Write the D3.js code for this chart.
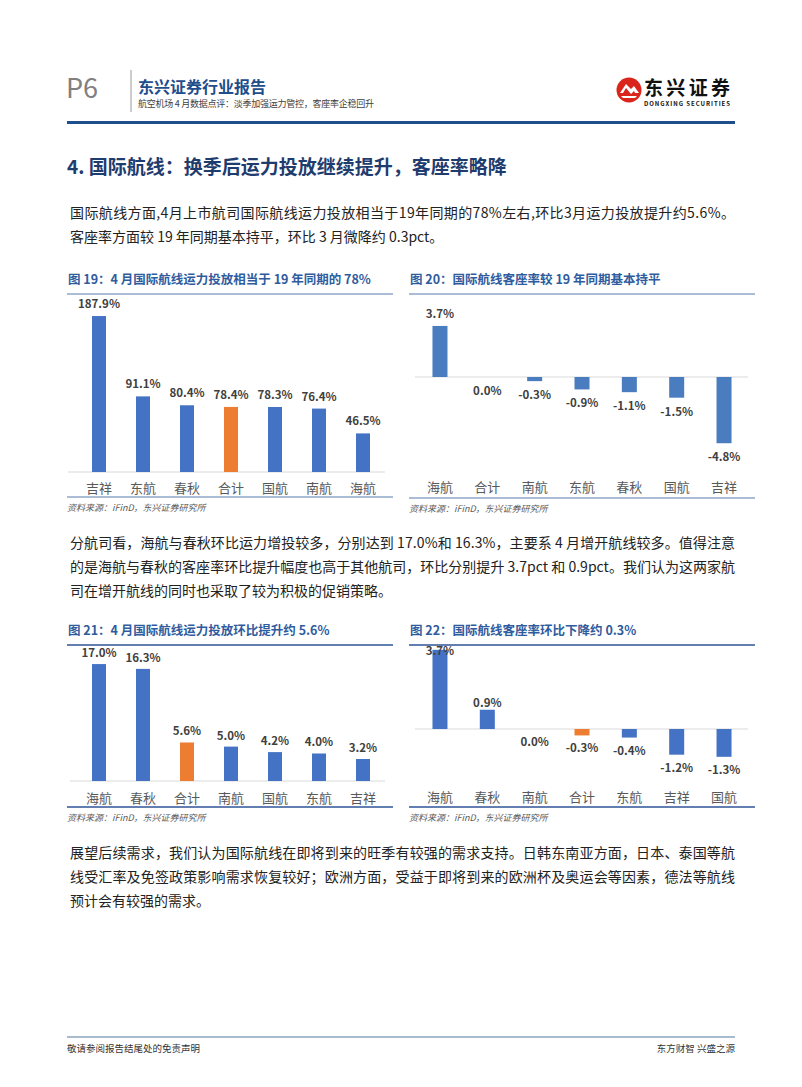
<!DOCTYPE html>
<html lang="zh">
<head>
<meta charset="UTF-8" />
<title>P6</title>
<style>
  body { margin: 0; background: #fff; }
  svg text { font-family: "Noto Sans CJK SC", "Noto Sans", sans-serif; }
</style>
</head>
<body>
<svg id="page" width="802" height="1087"></svg>
<script src="https://d3js.org/d3.v7.min.js"></script>
<script>
// chart data
const cats19 = ["吉祥", "东航", "春秋", "合计", "国航", "南航", "海航"];
const vals19 = [187.9, 91.1, 80.4, 78.4, 78.3, 76.4, 46.5];
const cats20 = ["海航", "合计", "南航", "东航", "春秋", "国航", "吉祥"];
const vals20 = [3.7, 0.0, -0.3, -0.9, -1.1, -1.5, -4.8];
const cats21 = ["海航", "春秋", "合计", "南航", "国航", "东航", "吉祥"];
const vals21 = [17.0, 16.3, 5.6, 5.0, 4.2, 4.0, 3.2];
const cats22 = ["海航", "春秋", "南航", "合计", "东航", "吉祥", "国航"];
const vals22 = [3.7, 0.9, 0.0, -0.3, -0.4, -1.2, -1.3];

const titles = [
  "图 19：4 月国际航线运力投放相当于 19 年同期的 78%",
  "图 20：国际航线客座率较 19 年同期基本持平",
  "图 21：4 月国际航线运力投放环比提升约 5.6%",
  "图 22：国际航线客座率环比下降约 0.3%"
];
const source = "资料来源：iFinD，东兴证券研究所";

const para1 = [
  "国际航线方面,4月上市航司国际航线运力投放相当于19年同期的78%左右,环比3月运力投放提升约5.6%。",
  "客座率方面较 19 年同期基本持平，环比 3 月微降约 0.3pct。"
];
const para2 = [
  "分航司看，海航与春秋环比运力增投较多，分别达到 17.0%和 16.3%，主要系 4 月增开航线较多。值得注意",
  "的是海航与春秋的客座率环比提升幅度也高于其他航司，环比分别提升 3.7pct 和 0.9pct。我们认为这两家航",
  "司在增开航线的同时也采取了较为积极的促销策略。"
];
const para3 = [
  "展望后续需求，我们认为国际航线在即将到来的旺季有较强的需求支持。日韩东南亚方面，日本、泰国等航",
  "线受汇率及免签政策影响需求恢复较好；欧洲方面，受益于即将到来的欧洲杯及奥运会等因素，德法等航线",
  "预计会有较强的需求。"
];

const svg = d3.select("#page");
const BLUE = "#4472c4", ORANGE = "#ed7d31";

// ---- header ----
svg.append("text").attr("x", 66).attr("y", 98).text("P6")
  .style("font-size", "27px").style("fill", "#808080");
svg.append("line").attr("x1", 131).attr("x2", 131).attr("y1", 70).attr("y2", 112)
  .style("stroke", "#999").style("stroke-width", 1);
svg.append("text").attr("x", 138).attr("y", 93).text("东兴证券行业报告")
  .style("font-size", "16px").style("font-weight", "bold").style("fill", "#1f4e8c");
svg.append("text").attr("x", 138).attr("y", 107).text("航空机场 4 月数据点评：淡季加强运力管控，客座率企稳回升")
  .attr("textLength", 236)
  .style("font-size", "9px").style("fill", "#404040");
svg.append("rect").attr("x", 67).attr("y", 121).attr("width", 668).attr("height", 3)
  .style("fill", "#1f4e8c");

// logo
const logo = svg.append("g").attr("transform", "translate(629,90)");
logo.append("circle").attr("r", 12.5).style("fill", "#d9251c");
logo.append("path").attr("d", "M-9,3 L-3,-6 L2,-1 L5,-4 L10,3 L6,3 L5,1 L2,4 L-3,-2 L-6,3 Z")
  .style("fill", "#fff");
logo.append("path").attr("d", "M-8,6 L8,6 L6,8 L-6,8 Z").style("fill", "#fff");
svg.append("text").attr("x", 644).attr("y", 95).text("东兴证券")
  .attr("textLength", 86).style("font-size", "19px").style("font-weight", "bold").style("fill", "#111");
svg.append("text").attr("x", 644).attr("y", 106).text("DONGXING SECURITIES")
  .attr("textLength", 86).style("font-size", "6px").style("font-weight", "bold").style("fill", "#111");

// ---- section heading ----
svg.append("text").attr("x", 67).attr("y", 174)
  .text("4. 国际航线：换季后运力投放继续提升，客座率略降")
  .style("font-size", "19px").style("font-weight", "bold").style("fill", "#1f3c6e");

function paragraph(lines, y0) {
  lines.forEach((t, i) => {
    const tx = svg.append("text").attr("x", 70).attr("y", y0 + i * 24).text(t)
      .style("font-size", "14px").style("fill", "#222");
    if (i < lines.length - 1)
      tx.attr("textLength", 665).attr("lengthAdjust", "spacing");
  });
}
paragraph(para1, 218);
paragraph(para2, 548);
paragraph(para3, 858);

// ---- bar chart helper ----
function barChart(o) {
  const g = svg.append("g");
  g.append("text").attr("x", o.x0 + 1).attr("y", o.titleY).text(o.title)
    .style("font-size", "12.5px").style("font-weight", "bold").style("fill", "#2f5c9e");
  g.append("line").attr("x1", o.x0).attr("x2", o.x1).attr("y1", o.titleY + 10).attr("y2", o.titleY + 10)
    .style("stroke", o.ruleColor).style("stroke-width", 1.5);
  g.append("line").attr("x1", o.x0).attr("x2", o.x1).attr("y1", o.bottomY).attr("y2", o.bottomY)
    .style("stroke", o.ruleColor).style("stroke-width", 1.5);
  g.append("text").attr("x", o.x0).attr("y", o.bottomY + 14).text(source)
    .style("font-size", "9px").style("font-style", "italic").style("fill", "#595959");

  const x = d3.scalePoint().domain(o.cats).range(o.xRange).padding(0.5);
  const y = d3.scaleLinear().domain(o.yDomain).range(o.yRange);
  const data = o.cats.map((c, i) => ({ c, v: o.vals[i] }));
  const bw = o.barW;

  g.append("line").attr("x1", o.axisX[0]).attr("x2", o.axisX[1])
    .attr("y1", y(0)).attr("y2", y(0)).style("stroke", "#d9d9d9").style("stroke-width", 1);

  g.selectAll("rect.bar").data(data).enter().append("rect")
    .attr("class", "bar")
    .attr("x", d => x(d.c) - bw / 2)
    .attr("y", d => Math.min(y(d.v), y(0)))
    .attr("width", bw)
    .attr("height", d => Math.abs(y(d.v) - y(0)))
    .style("fill", d => d.c === "合计" && o.hl ? ORANGE : o.color);

  const fmt = d3.format(".1f");
  g.selectAll("text.val").data(data).enter().append("text")
    .attr("class", "val")
    .attr("x", d => x(d.c))
    .attr("y", d => d.v > 0 ? Math.max(y(d.v) - o.posGap, o.labelTop) : y(Math.min(d.v, 0)) + o.negGap)
    .attr("text-anchor", "middle")
    .text(d => fmt(d.v).replace("−", "-") + "%")
    .style("font-size", "11.5px").style("font-weight", "bold").style("fill", "#404040");

  g.selectAll("text.cat").data(data).enter().append("text")
    .attr("class", "cat")
    .attr("x", d => x(d.c))
    .attr("y", o.catY)
    .attr("text-anchor", "middle")
    .text(d => d.c)
    .style("font-size", "13px").style("fill", "#595959");
}

barChart({
  title: titles[0], cats: cats19, vals: vals19, color: BLUE, hl: true,
  x0: 67, x1: 393, titleY: 284, bottomY: 497, ruleColor: "#8fa6c8",
  xRange: [77, 385], axisX: [68, 385], yDomain: [0, 200], yRange: [472, 306],
  barW: 14, posGap: 8, negGap: 18, labelTop: 0, catY: 493
});
barChart({
  title: titles[1], cats: cats20, vals: vals20, color: "#4a7cc0", hl: false,
  x0: 409, x1: 755, titleY: 284, bottomY: 498, ruleColor: "#8fa6c8",
  xRange: [416.3, 747.7], axisX: [415, 748], yDomain: [-5, 4], yRange: [446, 321.8],
  barW: 15, posGap: 8, negGap: 18, labelTop: 0, catY: 492
});
barChart({
  title: titles[2], cats: cats21, vals: vals21, color: BLUE, hl: true,
  x0: 67, x1: 393, titleY: 635, bottomY: 807, ruleColor: "#2f5597",
  xRange: [77, 385], axisX: [70, 385], yDomain: [0, 18], yRange: [781, 657.2],
  barW: 14, posGap: 7, negGap: 18, labelTop: 0, catY: 803
});
barChart({
  title: titles[3], cats: cats22, vals: vals22, color: BLUE, hl: true,
  x0: 409, x1: 755, titleY: 635, bottomY: 807, ruleColor: "#2f5597",
  xRange: [416.3, 747.7], axisX: [415, 748], yDomain: [-1.5, 4], yRange: [761.1, 643.4],
  barW: 15, posGap: 3, negGap: 17, labelTop: 655, catY: 802
});

// ---- footer ----
svg.append("rect").attr("x", 67).attr("y", 1036).attr("width", 668).attr("height", 2)
  .style("fill", "#a9bccf");
svg.append("text").attr("x", 67).attr("y", 1052).text("敬请参阅报告结尾处的免责声明")
  .style("font-size", "9.5px").style("fill", "#333");
svg.append("text").attr("x", 735).attr("y", 1052).attr("text-anchor", "end").text("东方财智 兴盛之源")
  .style("font-size", "9.5px").style("fill", "#333");
</script>
</body>
</html>
